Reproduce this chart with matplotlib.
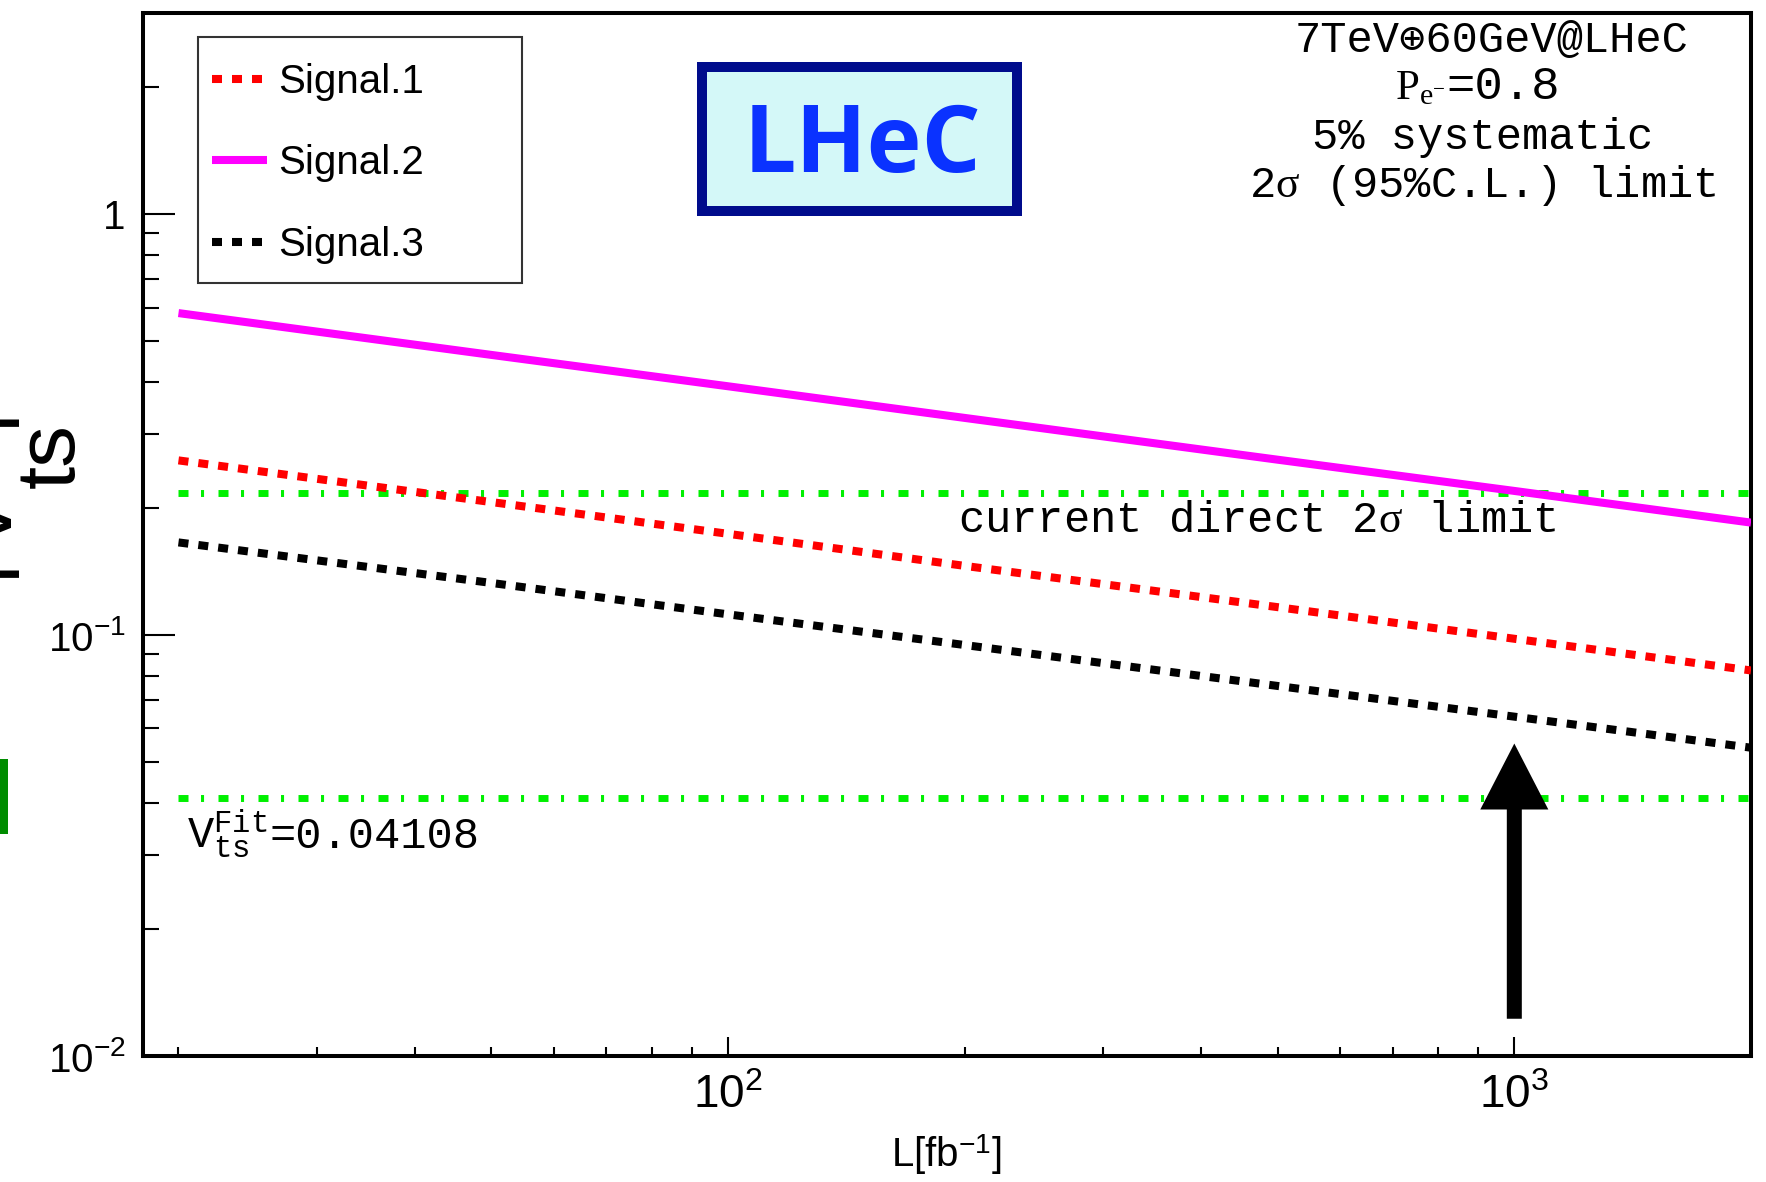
import matplotlib
matplotlib.use('Agg')
import matplotlib.pyplot as plt
from matplotlib.patches import Rectangle
from matplotlib.ticker import FixedLocator, LogLocator, FuncFormatter, NullFormatter

plt.rcParams['mathtext.fontset'] = 'custom'
plt.rcParams['mathtext.rm'] = 'Liberation Serif'
plt.rcParams['mathtext.it'] = 'Liberation Serif:italic'
plt.rcParams['mathtext.bf'] = 'Liberation Serif:bold'
plt.rcParams['mathtext.sf'] = 'Liberation Sans'
plt.rcParams['mathtext.tt'] = 'Liberation Mono'
plt.rcParams['lines.scale_dashes'] = False
plt.rcParams['font.family'] = ['Liberation Sans', 'DejaVu Sans']

# ---------------- data ----------------
lumi = [20, 50, 100, 200, 500, 1000, 2000]
signal1 = [0.260, 0.207, 0.174, 0.146, 0.1165, 0.098, 0.0824]
signal2 = [0.582, 0.463, 0.390, 0.328, 0.261, 0.220, 0.185]
signal3 = [0.166, 0.133, 0.112, 0.0947, 0.0757, 0.0640, 0.054]
series_labels = ['Signal.1', 'Signal.2', 'Signal.3']

limit_lumi = [20, 2000]
direct_limit = [0.218, 0.218]
vts_fit = [0.04108, 0.04108]

arrow_lumi = 1000
arrow_tail = 0.01226
arrow_tip = 0.05525

x_range = (18, 2000)
y_range = (0.01, 3)
x_major = [100, 1000]
x_major_labels = [r'$\mathsf{10^{2}}$', r'$\mathsf{10^{3}}$']
y_major = [0.01, 0.1, 1]
y_major_labels = [r'$\mathsf{10^{-2}}$', r'$\mathsf{10^{-1}}$', '1']

# ---------------- figure ----------------
W, H = 1766, 1182
fig = plt.figure(figsize=(W / 100, H / 100), dpi=100)
fig.patch.set_facecolor('white')


def fx(px):
    return px / W


def fy(py):
    return 1 - py / H


ax = fig.add_axes([fx(142.5), fy(1056), (1751 - 142.5) / W, (1056 - 13.3) / H])
ax.set_xscale('log')
ax.set_yscale('log')

mono = ['Liberation Mono', 'DejaVu Sans Mono', 'DejaVu Sans']
green = '#00F000'

# green reference lines
ax.plot(limit_lumi, direct_limit, color=green, lw=5.0,
        dashes=(7.2, 9.0, 2.2, 10.4), dash_capstyle='butt', zorder=2)
ax.plot(limit_lumi, vts_fit, color=green, lw=5.0,
        dashes=(7.2, 9.0, 2.2, 10.4), dash_capstyle='butt', zorder=2)

# signals
l1, = ax.plot(lumi, signal1, color='#FF0000', lw=5.8, dashes=(7.2, 7.2),
              dash_capstyle='butt', label=series_labels[0], zorder=3)
l2, = ax.plot(lumi, signal2, color='#FF00FF', lw=5.8,
              solid_capstyle='butt', label=series_labels[1], zorder=3)
l3, = ax.plot(lumi, signal3, color='#000000', lw=5.8, dashes=(7.2, 7.2),
              dash_capstyle='butt', label=series_labels[2], zorder=3)

ax.set_xlim(*x_range)
ax.set_ylim(*y_range)

# ticks
ax.xaxis.set_major_locator(FixedLocator(x_major))
ax.xaxis.set_major_formatter(FuncFormatter(
    lambda v, p: dict(zip(x_major, x_major_labels)).get(round(v), '')))
ax.xaxis.set_minor_locator(LogLocator(base=10, subs=range(2, 10), numticks=20))
ax.xaxis.set_minor_formatter(NullFormatter())
ax.yaxis.set_major_locator(FixedLocator(y_major))
ylab_map = dict(zip(y_major, y_major_labels))
ax.yaxis.set_major_formatter(FuncFormatter(
    lambda v, p: next((l for k, l in ylab_map.items() if abs(k - v) / k < 1e-6), '')))
ax.yaxis.set_minor_locator(LogLocator(base=10, subs=range(2, 10), numticks=20))
ax.yaxis.set_minor_formatter(NullFormatter())

ax.tick_params(axis='both', which='both', direction='in', top=False, right=False,
               width=1.5, color='black')
ax.tick_params(axis='y', which='major', length=23, pad=12, labelsize=29)
ax.tick_params(axis='y', which='minor', length=11.5)
ax.tick_params(axis='x', which='major', length=13.7, pad=13, labelsize=33)
ax.tick_params(axis='x', which='minor', length=6.5)
for s in ax.spines.values():
    s.set_linewidth(2.9)
    s.set_color('black')

# x label
xl = ax.set_xlabel(r'L[fb$^{\mathsf{-1}}$]', fontsize=29)
xl.set_verticalalignment('baseline')
ax.xaxis.set_label_coords(0.5, (1056 - 1167) / (1056 - 13.3))

# y label (mostly cut off at the left edge, as in the reference)
ylab_kw = dict(rotation=90, rotation_mode='anchor', ha='center', va='baseline',
               color='black', family='Liberation Sans')
fig.text(fx(-7), fy(565), '|', fontsize=66, **ylab_kw)
fig.text(fx(12), fy(522), 'V', fontsize=66, **ylab_kw)
fig.text(fx(74), fy(456), 'ts', fontsize=60, **ylab_kw)
fig.text(fx(-7), fy(414), '|', fontsize=66, **ylab_kw)

# green fragment at the left edge
fig.add_artist(Rectangle((fx(0), fy(834)), fx(8), (834 - 759) / H,
                         transform=fig.transFigure, facecolor='#008C00',
                         edgecolor='none'))

# legend (frame drawn separately so that the padding matches)
ax.add_patch(Rectangle((fx(198), fy(283)), (522 - 198) / W, (283 - 37) / H,
                       transform=fig.transFigure, facecolor='white',
                       edgecolor='#333333', linewidth=1.5, zorder=4.5))
leg = ax.legend(handles=[l1, l2, l3], loc='upper left',
                bbox_to_anchor=(fx(212), fy(63)),
                bbox_transform=fig.transFigure, borderaxespad=0, frameon=False,
                prop={'family': 'Liberation Sans', 'size': 29},
                handlelength=1.365, handletextpad=0.27, labelspacing=1.08,
                borderpad=0)
leg.set_zorder(6)

# LHeC box
fig.add_artist(Rectangle((fx(702), fy(211)), (1017 - 702) / W, (211 - 67) / H,
                         transform=fig.transFigure, facecolor='#D4F8F8',
                         edgecolor='#000C8C', linewidth=7.2))
fig.text(fx(862), fy(172), 'LHeC', fontsize=67, fontweight='bold',
         family=['Open Sans', 'DejaVu Sans'], color='#0A32FF',
         ha='center', va='baseline')

# top-right info text
info_kw = dict(ha='center', va='baseline', fontsize=31.5, family=mono, color='black')
fig.text(fx(1492), fy(52), '7TeV\u229560GeV@LHeC', **info_kw)
fig.text(fx(1446), fy(99), r'$\mathrm{P}_{\mathrm{e}^{-}}$', ha='right', va='baseline',
         fontsize=31, color='black')
fig.text(fx(1446), fy(99), '=0.8', ha='left', va='baseline', fontsize=34,
         family=mono, color='black')
fig.text(fx(1483), fy(149), '5% systematic', **info_kw)
fig.text(fx(1483), fy(197), r'2$\mathrm{\sigma}$ (95%C.L.) limit', **info_kw)

# line annotations
fig.text(fx(1257), fy(532), r'current direct 2$\mathrm{\sigma}$ limit', **info_kw)
fig.text(fx(187), fy(848), r'$\mathtt{V}_{\mathtt{ts}}^{\mathtt{Fit}}$', ha='left',
         va='baseline', fontsize=31.5, color='black')
fig.text(fx(270), fy(848), '=0.04108', ha='left', va='baseline', fontsize=31.5,
         family=mono, color='black')

# arrow
ax.annotate('', xy=(arrow_lumi, arrow_tip), xytext=(arrow_lumi, arrow_tail),
            arrowprops=dict(arrowstyle='simple,head_length=47.5,head_width=49,tail_width=10.8',
                            mutation_scale=1, facecolor='black', edgecolor='none',
                            shrinkA=0, shrinkB=0), zorder=5)

fig.savefig('out.png', dpi=100, facecolor='white')
